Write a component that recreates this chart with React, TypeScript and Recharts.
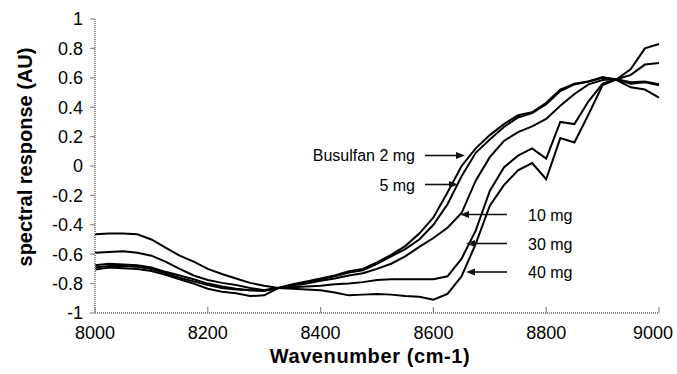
import { LineChart, Line, XAxis, YAxis } from 'recharts'

const waveNumbers = [
  8000, 8025, 8050, 8075, 8100, 8125, 8150, 8175, 8200, 8225, 8250, 8275, 8300, 8325,
  8350, 8375, 8400, 8425, 8450, 8475, 8500, 8525, 8550, 8575, 8600, 8625, 8650, 8675,
  8700, 8725, 8750, 8775, 8800, 8825, 8850, 8875, 8900, 8925, 8950, 8975, 9000,
]

const busulfan2mg = [
  -0.705, -0.69, -0.695, -0.7, -0.715, -0.74, -0.77, -0.8, -0.835, -0.855, -0.865, -0.885, -0.88, -0.83,
  -0.805, -0.785, -0.765, -0.745, -0.715, -0.7, -0.655, -0.605, -0.545, -0.46, -0.35, -0.18, 0.0, 0.12,
  0.21, 0.285, 0.345, 0.365, 0.43, 0.52, 0.56, 0.575, 0.605, 0.585, 0.535, 0.52, 0.465,
]
const busulfan5mg = [
  -0.69, -0.68, -0.68, -0.685, -0.7, -0.73, -0.76, -0.785, -0.81, -0.83, -0.84, -0.845, -0.845, -0.83,
  -0.81, -0.79, -0.77, -0.75, -0.725, -0.71, -0.665, -0.615, -0.565, -0.5, -0.4, -0.26, -0.07, 0.09,
  0.18, 0.265, 0.33, 0.36, 0.42, 0.51, 0.555, 0.575, 0.6, 0.59, 0.56, 0.57, 0.55,
]
const busulfan10mg = [
  -0.675, -0.665, -0.67, -0.675, -0.69, -0.72, -0.745, -0.77, -0.8, -0.82, -0.835, -0.845, -0.85, -0.83,
  -0.815, -0.8, -0.78, -0.765, -0.745, -0.73, -0.7, -0.665, -0.615, -0.55, -0.49, -0.42, -0.32, -0.1,
  0.06, 0.17, 0.23, 0.27, 0.32, 0.41, 0.49, 0.555, 0.585, 0.59, 0.57, 0.575, 0.556,
]
const busulfan30mg = [
  -0.59, -0.585, -0.58, -0.59, -0.61, -0.65, -0.7, -0.745, -0.775, -0.795, -0.81, -0.83, -0.845, -0.83,
  -0.825, -0.82, -0.815, -0.805, -0.8, -0.79, -0.775, -0.77, -0.77, -0.77, -0.77, -0.75, -0.63, -0.44,
  -0.17, -0.01, 0.07, 0.12, 0.05, 0.3, 0.285, 0.44, 0.56, 0.59, 0.62, 0.69, 0.7,
]
const busulfan40mg = [
  -0.465, -0.46, -0.46, -0.465, -0.5, -0.555, -0.61, -0.65, -0.7, -0.735, -0.765, -0.795, -0.815, -0.83,
  -0.835, -0.84, -0.845, -0.86, -0.88, -0.875, -0.87, -0.875, -0.885, -0.89, -0.91, -0.87, -0.75, -0.53,
  -0.27, -0.13, -0.03, 0.02, -0.09, 0.19, 0.16, 0.35, 0.55, 0.59, 0.66, 0.8, 0.83,
]

const xTicks = [8000, 8200, 8400, 8600, 8800, 9000]
const yTicks = [-1, -0.8, -0.6, -0.4, -0.2, 0, 0.2, 0.4, 0.6, 0.8, 1]

const chartData = waveNumbers.map((w, i) => ({
  w,
  mg2: busulfan2mg[i],
  mg5: busulfan5mg[i],
  mg10: busulfan10mg[i],
  mg30: busulfan30mg[i],
  mg40: busulfan40mg[i],
}))

const seriesKeys = ['mg2', 'mg5', 'mg10', 'mg30', 'mg40']

const FONT = '"Liberation Sans", Arial, sans-serif'
const FRAME = '#8a8a8a'

function XTick({ x, y, payload }: any) {
  // last label is pulled in so it stays inside the picture
  const lx = Math.min(x, 653)
  return (
    <g>
      <line x1={x} x2={x} y1={y - 6} y2={y} stroke={FRAME} strokeWidth={1.2} />
      <text x={lx} y={y + 20} textAnchor="middle" dominantBaseline="central" fontSize={18} fill="#000" fontFamily={FONT}>
        {payload.value}
      </text>
    </g>
  )
}

function YTitle({ viewBox }: any) {
  const cx = viewBox.x + 25
  const cy = viewBox.y + viewBox.height / 2 - 9
  return (
    <text x={cx} y={cy} transform={`rotate(-90 ${cx} ${cy})`} textAnchor="middle" dominantBaseline="central"
      fontSize={20} fontWeight="bold" fill="#000" fontFamily={FONT}>
      spectral response (AU)
    </text>
  )
}

function XTitle({ viewBox }: any) {
  return (
    <text x={viewBox.x + viewBox.width / 2 - 7} y={viewBox.y + 43} textAnchor="middle" dominantBaseline="central"
      fontSize={20} fontWeight="bold" letterSpacing={0.6} fill="#000" fontFamily={FONT}>
      Wavenumber (cm-1)
    </text>
  )
}

// arrows + dose labels, drawn over the chart
function Arrow({ x1, x2, y }: { x1: number; x2: number; y: number }) {
  const dir = x2 > x1 ? 1 : -1
  const base = x2 - dir * 9
  return (
    <g>
      <line x1={x1} x2={base} y1={y} y2={y} stroke="#111" strokeWidth={1.6} />
      <polygon points={`${x2},${y} ${base},${y - 3.5} ${base},${y + 3.5}`} fill="#111" />
    </g>
  )
}

function Annotations() {
  const t = { fontSize: 16, fill: '#000', fontFamily: FONT, dominantBaseline: 'central' as const }
  return (
    <svg width={677} height={374} style={{ position: 'absolute', left: 0, top: 0, pointerEvents: 'none' }}>
      <text x={415} y={155} textAnchor="end" {...t}>Busulfan 2 mg</text>
      <Arrow x1={425} x2={465} y={155.5} />
      <text x={415} y={185} textAnchor="end" {...t}>5 mg</text>
      <Arrow x1={425} x2={458} y={184.5} />
      <text x={528} y={215} textAnchor="start" {...t}>10 mg</text>
      <Arrow x1={507} x2={460} y={214.5} />
      <text x={528} y={244} textAnchor="start" {...t}>30 mg</text>
      <Arrow x1={507} x2={466} y={243.5} />
      <text x={528} y={272} textAnchor="start" {...t}>40 mg</text>
      <Arrow x1={507} x2={466} y={272} />
    </svg>
  )
}

export default function App() {
  const axisLine = { stroke: FRAME, strokeWidth: 2, strokeDasharray: '1 1' }
  return (
    <div style={{ position: 'absolute', left: 0, top: 0, width: 677, height: 374, background: '#fff' }}>
      <LineChart width={677} height={374} data={chartData} margin={{ top: 19, right: 18, bottom: 0, left: 0 }}
        style={{ fontFamily: FONT }}>
        <XAxis
          dataKey="w"
          type="number"
          domain={[8000, 9000]}
          ticks={xTicks}
          height={61}
          tickSize={0}
          tickMargin={0}
          tickLine={false}
          axisLine={axisLine}
          tick={<XTick />}
          label={<XTitle />}
        />
        <XAxis xAxisId="top" orientation="top" dataKey="w" type="number" domain={[8000, 9000]}
          height={0} tick={false} tickLine={false} axisLine={axisLine} />
        <YAxis
          type="number"
          domain={[-1, 1]}
          ticks={yTicks}
          width={95}
          tickSize={5}
          tickMargin={7}
          tickLine={{ stroke: FRAME, strokeWidth: 1.2 }}
          axisLine={axisLine}
          tick={{ fill: '#000', fontSize: 18, fontFamily: FONT }}
          label={<YTitle />}
        />
        <YAxis yAxisId="right" orientation="right" domain={[-1, 1]} width={0}
          tick={false} tickLine={false} axisLine={axisLine} />
        {seriesKeys.map(k => (
          <Line
            key={k}
            type="linear"
            dataKey={k}
            stroke="#000"
            strokeWidth={2}
            dot={false}
            activeDot={false}
            isAnimationActive={false}
          />
        ))}
      </LineChart>
      <Annotations />
    </div>
  )
}
